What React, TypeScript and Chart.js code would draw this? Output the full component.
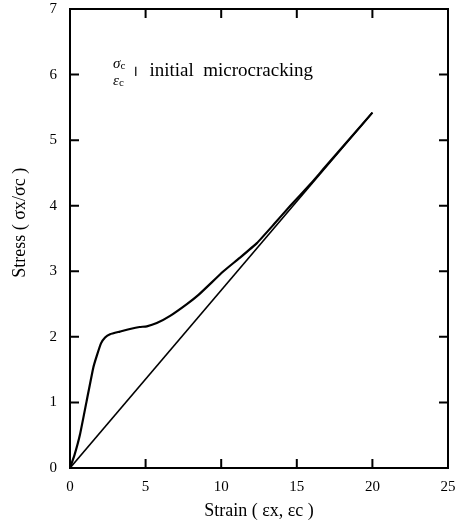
import React, { useEffect, useRef } from "react";
import { Chart, registerables } from "chart.js";

Chart.register(...registerables);

const curveX = [0, 0.3, 0.66, 1.1, 1.54, 1.77, 2.05, 2.32, 2.65, 3.3, 3.97, 4.6, 5.08, 5.74, 6.62, 7.73, 8.5, 10.15, 11.2, 12.36, 13.5, 14.57, 15.9, 16.8, 18.5, 20];
const curveY = [0, 0.2, 0.51, 1.02, 1.53, 1.71, 1.9, 1.99, 2.04, 2.08, 2.12, 2.15, 2.16, 2.21, 2.32, 2.5, 2.64, 3.0, 3.2, 3.43, 3.72, 4.0, 4.33, 4.57, 5.02, 5.42];
const lineX = [0, 20];
const lineY = [0, 5.42];
const xTicks = [0, 5, 10, 15, 20, 25];
const yTicks = [0, 1, 2, 3, 4, 5, 6, 7];
const xTitle = "Strain ( εx, εc )";
const yTitle = "\u00a0\u00a0\u00a0\u00a0\u00a0\u00a0\u00a0Stress ( σx/σc )";
const noteText = "initial  microcracking";

const SERIF = "'Liberation Serif', 'DejaVu Serif', serif";

const framePlugin = {
  id: "frame",
  afterDatasetsDraw(chart: any) {
    const { ctx, chartArea: a, scales } = chart;
    const xs = scales.x;
    const ys = scales.y;
    ctx.save();
    ctx.strokeStyle = "#000";
    ctx.lineWidth = 2;
    ctx.strokeRect(a.left, a.top, a.right - a.left, a.bottom - a.top);
    const tl = 9;
    ctx.beginPath();
    xTicks.slice(1, -1).forEach((v) => {
      const px = xs.getPixelForValue(v);
      ctx.moveTo(px, a.bottom);
      ctx.lineTo(px, a.bottom - tl);
      ctx.moveTo(px, a.top);
      ctx.lineTo(px, a.top + tl);
    });
    yTicks.slice(1, -1).forEach((v) => {
      const py = ys.getPixelForValue(v);
      ctx.moveTo(a.left, py);
      ctx.lineTo(a.left + tl, py);
      ctx.moveTo(a.right, py);
      ctx.lineTo(a.right - tl, py);
    });
    ctx.stroke();

    // annotation
    const ax = xs.getPixelForValue(2.85);
    const sy = ys.getPixelForValue(6.16);
    const ey = ys.getPixelForValue(5.9);
    ctx.fillStyle = "#000";
    ctx.textBaseline = "middle";
    ctx.textAlign = "left";
    ctx.font = "italic 15px " + SERIF;
    ctx.fillText("σ", ax, sy);
    ctx.fillText("ε", ax, ey);
    const w1 = ctx.measureText("σ").width;
    const w2 = ctx.measureText("ε").width;
    ctx.font = "11px " + SERIF;
    ctx.fillText("c", ax + w1, sy + 2);
    ctx.fillText("c", ax + w2, ey + 2);
    const bx = xs.getPixelForValue(4.35);
    ctx.lineWidth = 1.2;
    ctx.beginPath();
    ctx.moveTo(bx, ys.getPixelForValue(6.12));
    ctx.lineTo(bx, ys.getPixelForValue(5.98));
    ctx.stroke();
    ctx.font = "19px " + SERIF;
    ctx.fillText(noteText, xs.getPixelForValue(5.25), ys.getPixelForValue(6.05));
    ctx.restore();
  },
};

export default function App() {
  const ref = useRef<HTMLCanvasElement | null>(null);
  useEffect(() => {
    document.body.style.margin = "0";
    const canvas = ref.current;
    if (!canvas) return;
    const chart = new Chart(canvas, {
      type: "scatter",
      data: {
        datasets: [
          {
            data: curveX.map((x, i) => ({ x, y: curveY[i] })),
            showLine: true,
            borderColor: "#000",
            borderWidth: 2.2,
            pointRadius: 0,
            tension: 0.15,
          },
          {
            data: lineX.map((x, i) => ({ x, y: lineY[i] })),
            showLine: true,
            borderColor: "#000",
            borderWidth: 1.6,
            pointRadius: 0,
          },
        ],
      },
      options: {
        animation: false,
        responsive: false,
        devicePixelRatio: 1,
        layout: { padding: { top: 9, right: 9, left: 0, bottom: 0 } },
        plugins: { legend: { display: false }, tooltip: { enabled: false } },
        scales: {
          x: {
            type: "linear",
            min: 0,
            max: 25,
            afterFit: (s: any) => {
              s.height = 56;
              s.paddingLeft = 0;
              s.paddingRight = 0;
            },
            afterBuildTicks: (s: any) => {
              s.ticks = xTicks.map((v) => ({ value: v }));
            },
            grid: { display: false, drawTicks: false },
            border: { display: false },
            ticks: {
              padding: 10,
              color: "#000",
              font: { family: SERIF, size: 15 },
            },
            title: {
              display: true,
              text: xTitle,
              color: "#000",
              font: { family: SERIF, size: 18 },
              padding: { top: 0, bottom: 2 },
            },
          },
          y: {
            type: "linear",
            min: 0,
            max: 7,
            afterFit: (s: any) => {
              s.width = 70;
              s.paddingTop = 0;
              s.paddingBottom = 0;
            },
            afterBuildTicks: (s: any) => {
              s.ticks = yTicks.map((v) => ({ value: v }));
            },
            grid: { display: false, drawTicks: false },
            border: { display: false },
            ticks: {
              padding: 13,
              color: "#000",
              font: { family: SERIF, size: 15 },
            },
            title: {
              display: true,
              text: yTitle,
              color: "#000",
              font: { family: SERIF, size: 18 },
              padding: { top: 9, bottom: 0 },
            },
          },
        },
      },
      plugins: [framePlugin],
    } as any);
    return () => chart.destroy();
  }, []);
  return <canvas ref={ref} width={457} height={524} style={{ display: "block" }} />;
}
